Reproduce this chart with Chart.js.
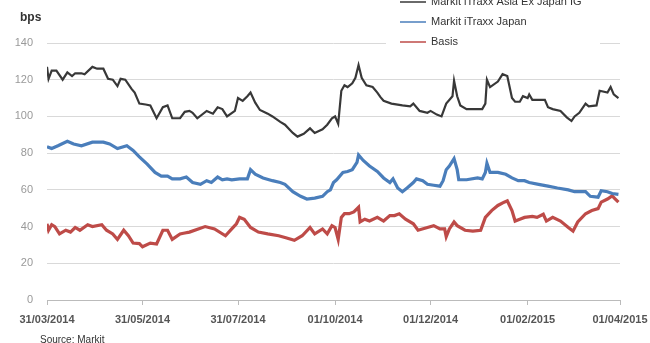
<!DOCTYPE html>
<html>
<head>
<meta charset="utf-8">
<script src="https://cdn.jsdelivr.net/npm/chart.js@4.4.1/dist/chart.umd.min.js"></script>
<style>
  html, body { margin: 0; padding: 0; background: #fff; }
  #wrap { width: 650px; height: 343px; position: relative; }
</style>
</head>
<body>
<div id="wrap"><canvas id="spreads"></canvas></div>
<script>
// x values are days since 31/03/2014
var tickDays = [0, 61, 122, 184, 245, 307, 366];
var tickLabels = ['31/03/2014', '31/05/2014', '31/07/2014', '01/10/2014', '01/12/2014', '01/02/2015', '01/04/2015'];
var yTicks = [0, 20, 40, 60, 80, 100, 120, 140];

var igDays = [0,1,3,6,10,13,16,18,22,24,29,32,36,39,42,45,47,50,54,56,59,63,66,70,74,77,80,85,88,91,93,96,102,106,109,112,115,120,122,125,128,130,133,136,141,144,149,152,157,160,164,168,171,176,179,182,184,186,188,190,192,195,197,199,201,204,208,211,213,215,220,227,232,234,238,243,245,249,252,255,259,260,262,264,268,275,278,280,281,283,288,291,294,297,299,302,304,307,308,310,318,320,323,328,332,335,337,340,344,346,351,353,358,360,362,365];
var igVals = [127,120.5,125,125,120,124,122,123.5,123.5,123,127,126,126,120.5,120,116.5,120.5,120,115,113,107,106.5,106,99,105,106,99,99,102.5,103,102,99,103,101.5,105,104,100,103,110,108.5,111,113,107.5,103.5,101.5,100,97,95.5,91,89,90.5,93.5,91,93,95.5,99,100,96,114,117,116,118,121,128,121,117,116,113,110.5,108.5,107,106,105.5,107,103,102,103,101,100,107,111,119.5,111,106,104,104,104,107,120,116,119,123,122,110,108,108,111,110,112,109,109,105,104,103,99.5,97.5,100,102,107,105.5,106,114,113,116,112,110];

var jpDays = [0,3,7,13,17,22,29,36,40,45,51,55,59,64,69,73,77,80,85,89,93,98,102,105,109,112,115,118,123,128,130,133,138,144,149,152,157,162,166,171,176,179,181,183,185,189,192,195,198,199,202,206,211,215,219,221,224,227,230,234,236,240,243,247,251,253,255,257,260,262,263,268,275,278,280,281,283,288,293,297,301,305,308,314,320,326,333,337,344,347,352,354,358,361,365];
var jpVals = [83.5,82.5,84,86.5,85,84,86,86,85,82.5,84,81.5,78,74,69.5,67.5,67.5,66,66,67,64,63,65,64,67,65.5,66,65.5,66,66,71,68.5,66.5,65,64,63,59,56.5,55,55.5,56.5,59,60,64,65.5,69.5,70,71,75,79,76,73,70,66.5,64,66,61,59,61,64,66,65,63,62.5,62,65,71,73,77,71,65.5,65.5,66.5,66,69.5,74.5,69.5,69.5,68.5,66.5,65,65,64,63,62,61,60,59,59,56.5,56,59.5,59,58,57.5];

var bsDays = [0,1,3,5,8,12,15,18,21,26,29,35,38,42,45,49,52,55,59,61,66,70,74,77,80,85,88,91,101,107,114,118,121,123,126,130,135,141,148,152,158,163,168,171,176,179,182,184,186,188,190,193,196,199,200,203,206,211,215,219,222,225,229,234,237,243,247,251,254,255,257,260,262,267,272,277,280,284,288,292,294,297,299,302,305,310,313,317,319,323,328,333,336,339,344,348,352,354,358,361,363,365];
var bsVals = [41.5,38,41,40,36,38,37,39.5,38,41,40,41,38,36,33,38,35,31,30.7,29,31,30.5,38,38,33,36,36.5,37,40,38.7,35,38.7,41.5,45,44,39.5,37,36,35,34,32.5,35,39.5,36,38.7,36,40.5,39.5,33,45,47,47,48,50.5,42.5,44,43,45,43,46,46,47,44,41.5,38,39.5,40.5,38.7,38.7,34.5,38.7,42.5,40.5,38,37.5,38,45,48.7,51.5,53.3,54,48.7,43,44,45,45.5,45,46.7,43,45,43,39.5,37.5,42.5,47,48.7,49.8,53.3,55,56.7,55,53.3];

function pts(days, vals) {
    return days.map(function (d, i) { return { x: d, y: vals[i] }; });
}

var FONT = '"Liberation Sans", Arial, sans-serif';

// legend sits over the top of the plot, plus the bps / source texts
var extras = {
    id: 'extras',
    afterDraw: function (chart) {
        var ctx = chart.ctx;
        ctx.save();
        ctx.fillStyle = '#fff';
        ctx.fillRect(386, 0, 214, 50);
        ctx.font = '11px ' + FONT;
        ctx.textBaseline = 'middle';
        chart.data.datasets.forEach(function (ds, i) {
            var y = 2 + i * 20;
            ctx.strokeStyle = ds.borderColor;
            ctx.lineWidth = 1.5;
            ctx.beginPath();
            ctx.moveTo(400, y);
            ctx.lineTo(426, y);
            ctx.stroke();
            ctx.fillStyle = '#333';
            ctx.fillText(ds.label, 431, y);
        });
        ctx.fillStyle = '#333';
        ctx.font = 'bold 12px ' + FONT;
        ctx.fillText('bps', 20, 18);
        ctx.font = '10px ' + FONT;
        ctx.fillText('Source: Markit', 40, 340);
        ctx.restore();
    }
};

new Chart(document.getElementById('spreads'), {
    type: 'line',
    data: {
        datasets: [{
            label: 'Markit iTraxx Asia Ex Japan IG',
            data: pts(igDays, igVals),
            borderColor: '#383838',
            borderWidth: 2.2
        }, {
            label: 'Markit iTraxx Japan',
            data: pts(jpDays, jpVals),
            borderColor: '#4a7ebb',
            borderWidth: 3.2
        }, {
            label: 'Basis',
            data: pts(bsDays, bsVals),
            borderColor: '#be4b48',
            borderWidth: 3.2
        }]
    },
    options: {
        responsive: true,
        maintainAspectRatio: false,
        animation: false,
        layout: { padding: { top: 43, right: 30, left: 0, bottom: 0 } },
        elements: { point: { radius: 0 }, line: { tension: 0 } },
        plugins: { legend: { display: false }, tooltip: { enabled: false } },
        scales: {
            x: {
                type: 'linear',
                min: 0,
                max: 366,
                afterFit: function (s) {
                    s.height = 43;
                    s.paddingLeft = 0;
                    s.paddingRight = 0;
                },
                afterBuildTicks: function (s) {
                    s.ticks = tickDays.map(function (d) { return { value: d }; });
                },
                grid: { drawOnChartArea: false, drawTicks: true, tickLength: 5, color: '#bbb' },
                border: { display: true, color: '#bbb' },
                ticks: {
                    autoSkip: false,
                    maxRotation: 0,
                    padding: 8,
                    color: '#555',
                    font: { family: FONT, size: 11, weight: 'bold' },
                    callback: function (v) {
                        var i = tickDays.indexOf(v);
                        return i >= 0 ? tickLabels[i] : '';
                    }
                }
            },
            y: {
                min: 0,
                max: 140,
                afterFit: function (s) { s.width = 47; },
                afterBuildTicks: function (s) {
                    s.ticks = yTicks.map(function (v) { return { value: v }; });
                },
                grid: { color: '#d9d9d9', drawTicks: false },
                border: { display: false },
                ticks: {
                    padding: 14,
                    color: '#999',
                    font: { family: FONT, size: 11 }
                }
            }
        }
    },
    plugins: [extras]
});
</script>
</body>
</html>
